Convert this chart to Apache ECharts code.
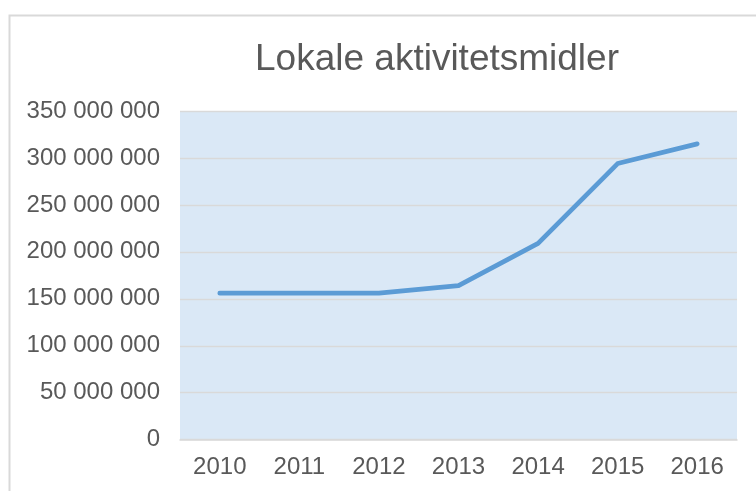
<!DOCTYPE html>
<html>
<head>
<meta charset="utf-8">
<script src="https://cdn.jsdelivr.net/npm/echarts@6/dist/echarts.min.js"></script>
<style>html,body{margin:0;padding:0;background:#fff}#c{width:756px;height:491px}</style>
</head>
<body>
<div id="c"></div>
<script>
var categories = ['2010','2011','2012','2013','2014','2015','2016'];
var values = [156000000, 156000000, 156000000, 164000000, 209000000, 294000000, 315000000];
var titleText = 'Lokale aktivitetsmidler';

function fmt(v){
  return String(v).replace(/\B(?=(\d{3})+(?!\d))/g, ' ');
}

var chart = echarts.init(document.getElementById('c'), null, {renderer:'canvas'});
chart.setOption({
  animation:false,
  backgroundColor:'#ffffff',
  graphic:[{
    type:'rect', shape:{x:9.5,y:15.5,width:760,height:490},
    style:{fill:'none',stroke:'#D9D9D9',lineWidth:2}, z:-1
  }],
  title:{
    text:titleText, left:250, top:36,
    textStyle:{fontFamily:'Liberation Sans, Arial, sans-serif',fontSize:37,fontWeight:'normal',color:'#595959'}
  },
  grid:{left:180,right:19,top:111,bottom:51.3,show:true,backgroundColor:'#DAE8F6',borderWidth:0},
  xAxis:{
    type:'category', data:categories, boundaryGap:true,
    axisLine:{show:true,lineStyle:{color:'#D9D9D9',width:1.5}},
    axisTick:{show:false},
    axisLabel:{color:'#595959',fontSize:24,fontFamily:'Liberation Sans, Arial, sans-serif',margin:16}
  },
  yAxis:{
    type:'value', min:0, max:350000000, interval:50000000,
    axisLine:{show:false}, axisTick:{show:false},
    splitLine:{lineStyle:{color:'#D9D9D9',width:1.3}},
    axisLabel:{color:'#595959',fontSize:24,fontFamily:'Liberation Sans, Arial, sans-serif',margin:20,formatter:fmt}
  },
  series:[{
    type:'line', data:values, symbol:'none',
    lineStyle:{color:'#5B9BD5',width:4.7,cap:'round',join:'round'}
  }]
});
</script>
</body>
</html>
